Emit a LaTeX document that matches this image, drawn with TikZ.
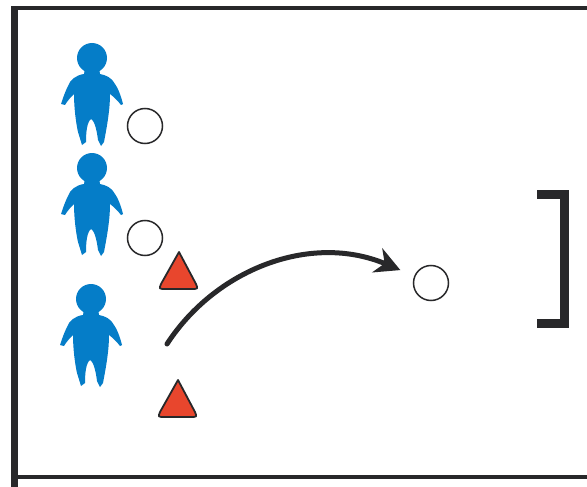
\documentclass[tikz,border=0pt]{standalone}
\usepackage{xcolor}
\usetikzlibrary{arrows.meta}
\definecolor{jugador}{RGB}{5,125,200}
\definecolor{cono}{RGB}{232,70,45}
\definecolor{tinta}{RGB}{40,40,42}
\tikzset{
  marco/.style={tinta,line width=4pt},
  balon/.style={circle,draw=tinta,fill=white,line width=1.5pt,minimum size=35pt,inner sep=0pt},
  conito/.style={fill=cono,draw=tinta,line width=1.8pt,line join=round},
  porteria/.style={draw=tinta,line width=9pt,line join=miter},
  pase/.style={-{Stealth[length=25pt,width=26pt,inset=8pt]},tinta,line width=5pt,line cap=round},
  pics/jugador/.style={code={
    \fill[jugador] (0,0) circle (15);
    \fill[jugador] (-7,10) -- (-8,16) .. controls (-16,17) and (-22,22) .. (-24,28)
      .. controls (-27,34) and (-29,40) .. (-31,46)
      -- (-27,47) .. controls (-24,42) and (-21,39) .. (-18,36)
      .. controls (-18,50) and (-16,65) .. (-14,74) -- (-10,87) -- (-6,84)
      .. controls (-6,74) and (-5,64) .. (-1,61) .. controls (3,63) and (5,74) .. (6,82)
      -- (9,88) -- (12,84) .. controls (15,68) and (18,52) .. (18,36)
      .. controls (22,39) and (26,43) .. (29,47) -- (31,46)
      .. controls (29,38) and (26,30) .. (23,26) .. controls (20,20) and (14,17) .. (8,16)
      -- (7,10) -- cycle;
  }}
}
\begin{document}
\begin{tikzpicture}[x=1pt,y=-1pt]
\useasboundingbox (0,0) rectangle (587,487);
% marco del campo
\draw[marco] (587,8) -- (14,8) -- (14,487);
\draw[marco] (14,477) -- (587,477);
\fill[tinta] (11,6) rectangle (18,487);
% jugadores
\foreach \nombre/\px/\py in {uno/92/58,dos/92/168,tres/91/299}{
  \pic (\nombre) at (\px,\py) {jugador};
}
% balones
\node[balon] (balonuno) at (145,126) {};
\node[balon] (balondos) at (145,238) {};
\node[balon] (balontres) at (431,283) {};
% conos
\foreach \cx/\cy in {179/252,178/380}{
  \draw[conito] (\cx,\cy) -- (\cx+17,\cy+32) .. controls (\cx+19,\cy+37) .. (\cx+12,\cy+37)
    -- (\cx-13,\cy+37) .. controls (\cx-20,\cy+37) .. (\cx-18,\cy+32) -- cycle;
}
% porteria
\draw[porteria] (537,194) -- (564.5,194) -- (564.5,323.5) -- (537,323.5);
% pase
\coordinate (inicio) at (167,344);
\draw[pase,shorten >=15pt] (inicio) .. controls (215,270) and (310,232) .. (balontres);
\end{tikzpicture}
\end{document}
